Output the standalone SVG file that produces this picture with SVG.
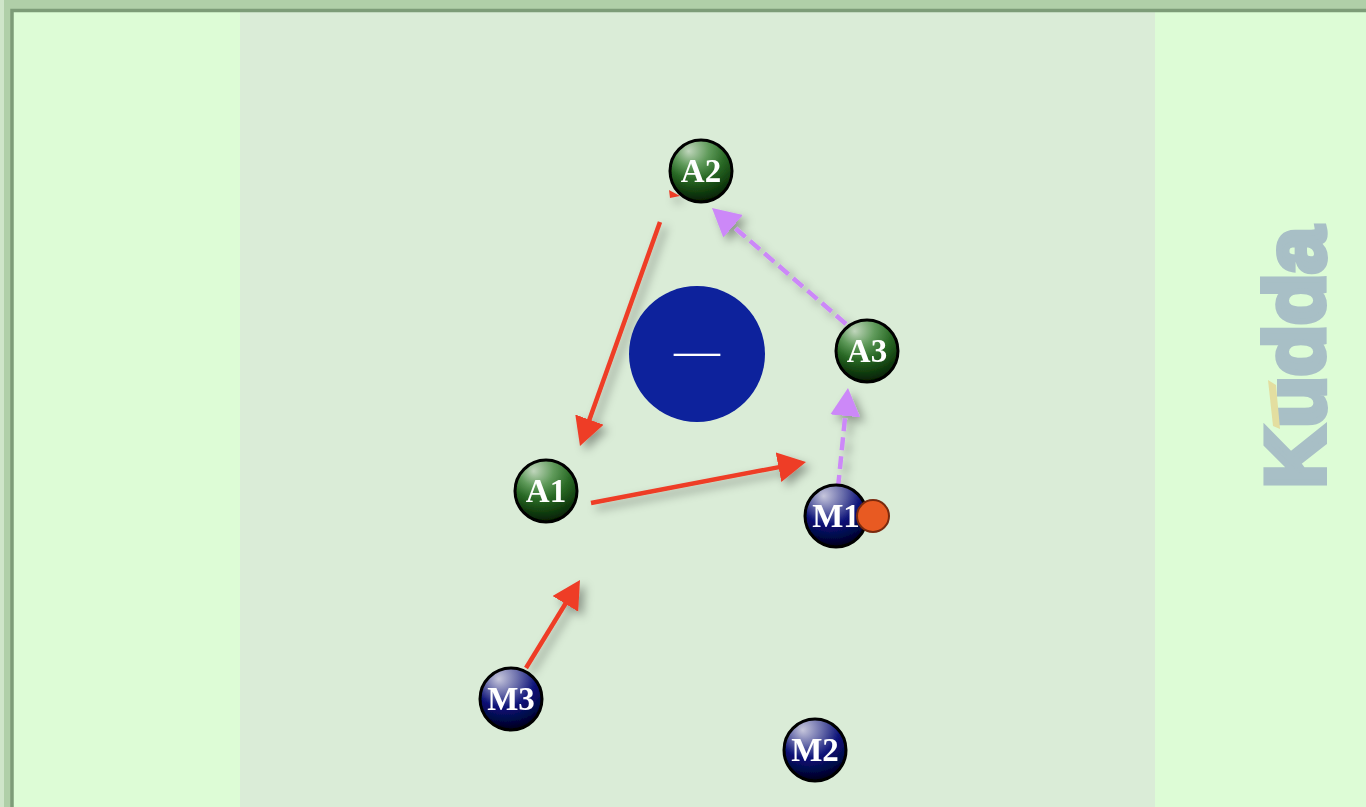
<svg xmlns="http://www.w3.org/2000/svg" width="1366" height="807" viewBox="0 0 1366 807">
<style>
.lbl{font-family:"Liberation Serif","DejaVu Serif",serif;font-weight:bold;font-size:33px;fill:#fff;text-anchor:middle}
.ring{stroke:#000;stroke-width:3}
.red{fill:none;stroke:#ee3c28;stroke-width:4.500;marker-end:url(#ah-red)}
.pur{fill:none;stroke:#cc88f8;stroke-width:4.500;stroke-dasharray:13 6;marker-end:url(#ah-pur)}
</style>
<defs>
<radialGradient id="g" cx="0.45" cy="0.05" r="0.95" fx="0.3" fy="0.18"><stop offset="0" stop-color="#c0d6bc"/><stop offset="0.3" stop-color="#5f9a5a"/><stop offset="0.55" stop-color="#2a6a26"/><stop offset="0.8" stop-color="#123f0f"/><stop offset="1" stop-color="#041c03"/></radialGradient>
<radialGradient id="b" cx="0.45" cy="0.05" r="0.95" fx="0.3" fy="0.18"><stop offset="0" stop-color="#c6c6dc"/><stop offset="0.3" stop-color="#6468a8"/><stop offset="0.55" stop-color="#0c1278"/><stop offset="0.8" stop-color="#030848"/><stop offset="1" stop-color="#000018"/></radialGradient>
<marker id="ah-red" markerUnits="userSpaceOnUse" markerWidth="34" markerHeight="34" refX="6" refY="15" orient="auto"><path d="M0 0L28 15L0 30Z" fill="#ee3c28"/></marker>
<marker id="ah-pur" markerUnits="userSpaceOnUse" markerWidth="34" markerHeight="34" refX="6" refY="15" orient="auto"><path d="M0 0L28 15L0 30Z" fill="#cc88f8"/></marker>
<filter id="sh" x="-30%" y="-30%" width="170%" height="170%"><feDropShadow dx="5" dy="5" stdDeviation="5" flood-color="#000" flood-opacity="0.35"/></filter>
<filter id="soft" x="0" y="0" width="100%" height="100%"><feGaussianBlur stdDeviation="0.7"/></filter>
</defs>
<g id="picture" filter="url(#soft)">
<rect id="bg" width="1366" height="807" fill="#ddfcd6"/>
<rect id="band" x="240" y="12" width="915" height="795" fill="#daecd7"/>
<g id="frame" fill="none">
<path d="M7 807V4.500H1366" stroke="#b0cfa8" stroke-width="9"/>
<path d="M2 807V0" stroke="#cfe5c9" stroke-width="4"/>
<path d="M12 807V10.500H1366" stroke="#7d9c78" stroke-width="3.500"/>
</g>
<g id="logo">
<text transform="translate(1324 488) rotate(-90)" font-family="Liberation Sans, sans-serif" font-weight="bold" font-size="84" textLength="261" lengthAdjust="spacingAndGlyphs" fill="#a8bfc6" stroke="#a8bfc6" stroke-width="6">Kudda</text>
<path d="M1268 380L1276 385L1280 429L1273 426Z" fill="#e3dea0"/>
</g>
<g id="connectors" filter="url(#sh)">
<path class="red" d="M660 222L587.400 425.300"/>
<path class="red" d="M591 503L784.400 466.100"/>
<path class="red" d="M526 668L568.500 598.700"/>
<path class="pur" d="M846 324L728.600 222.400"/>
<path class="pur" d="M838 488L845.800 409.900"/>
<path d="M669 190L680 196L670 198Z" fill="#ee3c28"/>
</g>
<g id="center"><circle cx="697" cy="354" r="68" fill="#0c209c"/><text x="697" y="366" font-family="Liberation Serif, serif" font-size="46" fill="#fff" text-anchor="middle">—</text></g>
<g id="A2"><circle class="ring" cx="701" cy="171" r="31" fill="url(#g)"/><text class="lbl" x="701" y="182">A2</text></g>
<g id="A3"><circle class="ring" cx="867" cy="351" r="31" fill="url(#g)"/><text class="lbl" x="867" y="362">A3</text></g>
<g id="A1"><circle class="ring" cx="546" cy="491" r="31" fill="url(#g)"/><text class="lbl" x="546" y="502">A1</text></g>
<g id="M1"><circle class="ring" cx="836" cy="516" r="31" fill="url(#b)"/><text class="lbl" x="836" y="527">M1</text></g>
<g id="M3"><circle class="ring" cx="511" cy="699" r="31" fill="url(#b)"/><text class="lbl" x="511" y="710">M3</text></g>
<g id="M2"><circle class="ring" cx="815" cy="750" r="31" fill="url(#b)"/><text class="lbl" x="815" y="761">M2</text></g>
<g id="ball"><circle cx="873" cy="516" r="16" fill="#e85a20" stroke="#7a2a10" stroke-width="2"/></g>
</g>
</svg>
